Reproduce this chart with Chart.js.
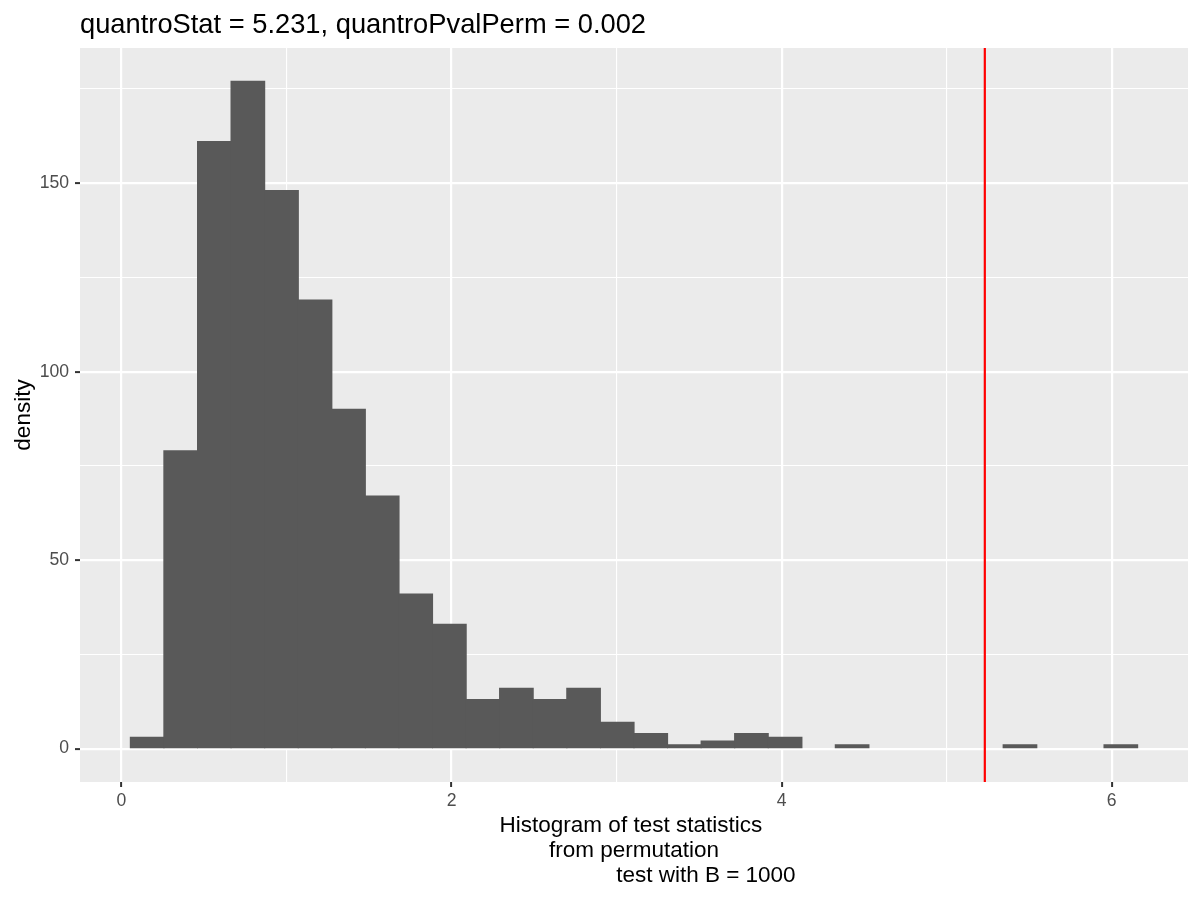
<!DOCTYPE html>
<html>
<head>
<meta charset="utf-8">
<script src="https://cdn.jsdelivr.net/npm/chart.js@4.4.1/dist/chart.umd.min.js"></script>
<style>
  html, body { margin: 0; padding: 0; background: #ffffff; }
  canvas { display: block; }
</style>
</head>
<body>
<canvas id="histChart" width="1200" height="900"></canvas>
<script>
// histogram of permutation statistics, 30 bins
const binCenters = [0.156, 0.359, 0.563, 0.766, 0.970, 1.173, 1.376, 1.580, 1.783, 1.987,
                    2.190, 2.393, 2.597, 2.800, 3.004, 3.207, 3.410, 3.614, 3.817, 4.021,
                    4.224, 4.427, 4.631, 4.834, 5.038, 5.241, 5.444, 5.648, 5.851, 6.055];
const binCounts = [3, 79, 161, 177, 148, 119, 90, 67, 41, 33,
                   13, 16, 13, 16, 7, 4, 1, 2, 4, 3,
                   0, 1, 0, 0, 0, 0, 1, 0, 0, 1];

const quantroStat = 5.231;
const quantroPvalPerm = 0.002;

const xRange = [-0.251, 6.462];
const yRange = [-8.85, 185.85];
const xTicks = [0, 1, 2, 3, 4, 5, 6];
const xLabelled = [0, 2, 4, 6];
const yTicks = [0, 25, 50, 75, 100, 125, 150, 175];
const yLabelled = [0, 50, 100, 150];

const titleText = "quantroStat = " + quantroStat + ", quantroPvalPerm = " + quantroPvalPerm;
const xTitleLines = ["Histogram of test statistics ", "from permutation", "                       test with B = 1000"];
const yTitle = "density";

Chart.defaults.font.family = '"Liberation Sans", Arial, sans-serif';

const panelBackground = {
    id: 'panelBackground',
    beforeDraw(chart) {
        const { ctx, chartArea } = chart;
        ctx.save();
        ctx.fillStyle = "#EBEBEB";
        ctx.fillRect(chartArea.left, chartArea.top, chartArea.right - chartArea.left, chartArea.bottom - chartArea.top);
        ctx.restore();
    }
};

const plotTitle = {
    id: 'plotTitle',
    afterDraw(chart) {
        const ctx = chart.ctx;
        ctx.save();
        ctx.font = '27.3px "Liberation Sans", Arial, sans-serif';
        ctx.fillStyle = "#000000";
        ctx.textBaseline = "alphabetic";
        ctx.textAlign = "left";
        ctx.fillText(titleText, chart.chartArea.left, 33);
        ctx.restore();
    }
};

const barData = binCenters
    .map((x, i) => ({ x: x, y: binCounts[i] }))
    .filter(p => p.y > 0);

new Chart(document.getElementById("histChart"), {
    type: 'bar',
    data: {
        datasets: [
            {
                type: 'line',
                data: [{ x: quantroStat, y: yRange[0] }, { x: quantroStat, y: yRange[1] }],
                borderColor: "#FF0000",
                borderWidth: 2.2,
                pointRadius: 0,
                order: 1
            },
            {
                type: 'bar',
                data: barData,
                backgroundColor: "#595959",
                borderWidth: 0,
                inflateAmount: 0.6,
                barPercentage: 1,
                categoryPercentage: 1,
                grouped: false,
                order: 2
            }
        ]
    },
    options: {
        responsive: false,
        animation: false,
        devicePixelRatio: 1,
        layout: { padding: { top: 48, right: 12, left: 0, bottom: 0 } },
        plugins: {
            legend: { display: false },
            tooltip: { enabled: false },
            title: { display: false }
        },
        scales: {
            x: {
                type: 'linear',
                min: xRange[0],
                max: xRange[1],
                offset: false,
                afterBuildTicks: scale => { scale.ticks = xTicks.map(v => ({ value: v })); },
                afterFit: scale => { scale.height = 118; },
                border: { display: false },
                grid: {
                    offset: false,
                    color: "#FFFFFF",
                    lineWidth: c => xLabelled.includes(c.tick.value) ? 2.2 : 1.1,
                    drawTicks: true,
                    tickLength: 5,
                    tickWidth: 2,
                    tickColor: c => xLabelled.includes(c.tick.value) ? "#333333" : "rgba(0,0,0,0)"
                },
                ticks: {
                    autoSkip: false,
                    maxRotation: 0,
                    padding: 4,
                    color: "#4D4D4D",
                    font: { size: 17.6 },
                    callback: v => xLabelled.includes(v) ? String(v) : ""
                },
                title: {
                    display: true,
                    text: xTitleLines,
                    color: "#000000",
                    font: { size: 22.5, lineHeight: 1.1 },
                    padding: { top: 0, bottom: 12 }
                }
            },
            y: {
                type: 'linear',
                min: yRange[0],
                max: yRange[1],
                afterBuildTicks: scale => { scale.ticks = yTicks.map(v => ({ value: v })); },
                afterFit: scale => { scale.width = 80; },
                border: { display: false },
                grid: {
                    color: "#FFFFFF",
                    lineWidth: c => yLabelled.includes(c.tick.value) ? 2.2 : 1.1,
                    drawTicks: true,
                    tickLength: 5,
                    tickWidth: 2,
                    tickColor: c => yLabelled.includes(c.tick.value) ? "#333333" : "rgba(0,0,0,0)"
                },
                ticks: {
                    autoSkip: false,
                    padding: 6,
                    color: "#4D4D4D",
                    font: { size: 17.6 },
                    callback: v => yLabelled.includes(v) ? String(v) : ""
                },
                title: {
                    display: true,
                    text: yTitle,
                    color: "#000000",
                    font: { size: 22.5, lineHeight: 1.1 },
                    padding: { top: 11, bottom: 0 }
                }
            }
        }
    },
    plugins: [panelBackground, plotTitle]
});
</script>
</body>
</html>
